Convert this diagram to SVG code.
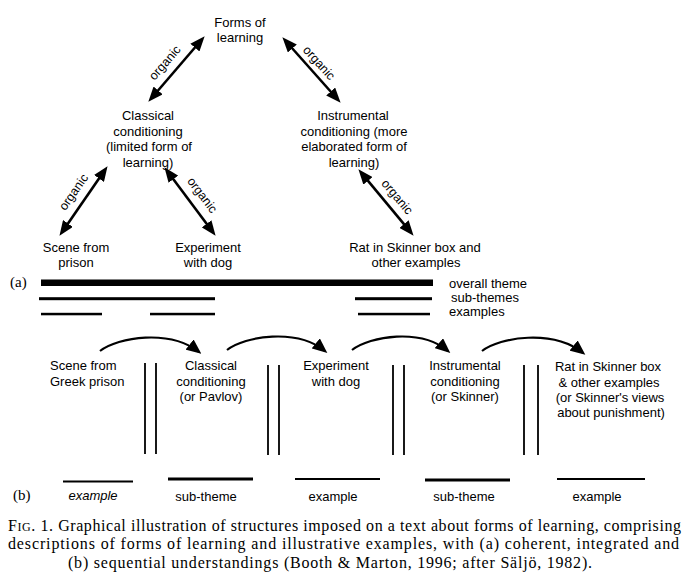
<svg xmlns="http://www.w3.org/2000/svg" width="688" height="586" viewBox="0 0 688 586">
<defs>
<style>
.t{font-family:"Liberation Sans",Arial,Helvetica,sans-serif;font-size:13px;fill:#000;text-anchor:middle}
.ts{font-family:"Liberation Sans",Arial,Helvetica,sans-serif;font-size:13px;fill:#000}
.lbl{font-family:"Liberation Sans",Arial,Helvetica,sans-serif;font-size:12.5px;fill:#000;text-anchor:middle}
.serif{font-family:"Liberation Serif","Times New Roman",serif;fill:#000}
.conn{stroke:#000;stroke-width:2.6;fill:none;marker-start:url(#ah);marker-end:url(#ah)}
.arc{stroke:#000;stroke-width:2.2;fill:none;marker-end:url(#ah2)}
.dl{stroke:#000;stroke-width:1.8}
.ex{stroke:#000;stroke-width:2.2}
.sub{stroke:#000;stroke-width:3.2}
</style>
<marker id="ah" viewBox="0 0 15 12" refX="10" refY="6" markerWidth="15" markerHeight="12" markerUnits="userSpaceOnUse" orient="auto-start-reverse"><path d="M0,0 L15,6 L0,12 z" fill="#000"/></marker>
<marker id="ah2" viewBox="0 0 15 13" refX="12" refY="6.5" markerWidth="15" markerHeight="13" markerUnits="userSpaceOnUse" orient="auto"><path d="M0,0 L15,6.5 L0,13 z" fill="#000"/></marker>
</defs>
<rect width="688" height="586" fill="#fff"/>

<!-- Part (a) nodes -->
<g id="forms">
<text class="t" x="240" y="27">Forms of</text>
<text class="t" x="240" y="42">learning</text>
</g>
<g id="classical">
<text class="t" x="148" y="120">Classical</text>
<text class="t" x="148" y="135.5">conditioning</text>
<text class="t" x="149" y="151">(limited form of</text>
<text class="t" x="148" y="166.5">learning)</text>
</g>
<g id="instrumental">
<text class="t" x="353" y="120">Instrumental</text>
<text class="t" x="354" y="135.5">conditioning (more</text>
<text class="t" x="354" y="151">elaborated form of</text>
<text class="t" x="354" y="166.5">learning)</text>
</g>
<g id="scene">
<text class="t" x="76" y="252">Scene from</text>
<text class="t" x="76" y="267">prison</text>
</g>
<g id="experiment">
<text class="t" x="208" y="252">Experiment</text>
<text class="t" x="208" y="267">with dog</text>
</g>
<g id="rat">
<text class="t" x="415" y="252">Rat in Skinner box and</text>
<text class="t" x="416" y="267">other examples</text>
</g>

<!-- Part (a) connectors -->
<g id="connectors-a">
<path class="conn" d="M201.4,40 L151.6,98"/>
<path class="conn" d="M285.7,41 L337.3,99"/>
<path class="conn" d="M104.7,170.3 L62.3,231.7"/>
<path class="conn" d="M167.4,171.2 L212.6,231.8"/>
<path class="conn" d="M361.6,173.1 L410.4,231.9"/>
<text class="lbl" x="168" y="65.5" transform="rotate(-49 168 65.5)">organic</text>
<text class="lbl" x="316" y="65.7" transform="rotate(48 316 65.7)">organic</text>
<text class="lbl" x="77" y="194.5" transform="rotate(-55 77 194.5)">organic</text>
<text class="lbl" x="199" y="197.5" transform="rotate(53 199 197.5)">organic</text>
<text class="lbl" x="394" y="199.5" transform="rotate(50 394 199.5)">organic</text>
</g>

<!-- Part (a) bars / legend -->
<g id="legend-a">
<text class="serif" x="10" y="287" font-size="15">(a)</text>
<rect x="41" y="279.5" width="392" height="6.5" fill="#000"/>
<rect x="39" y="297.2" width="176" height="3" fill="#000"/>
<rect x="355" y="297.2" width="77" height="3" fill="#000"/>
<rect x="41" y="312.8" width="61" height="2.5" fill="#000"/>
<rect x="150" y="312.8" width="65" height="2.5" fill="#000"/>
<rect x="358" y="312.8" width="72" height="2.5" fill="#000"/>
<text class="ts" x="449" y="288">overall theme</text>
<text class="ts" x="451" y="302">sub-themes</text>
<text class="ts" x="449" y="316">examples</text>
</g>

<!-- Part (b) nodes -->
<g id="b-scene">
<text class="ts" x="50" y="370">Scene from</text>
<text class="ts" x="50" y="386">Greek prison</text>
</g>
<g id="b-classical">
<text class="t" x="211" y="370">Classical</text>
<text class="t" x="211" y="386">conditioning</text>
<text class="t" x="211" y="401">(or Pavlov)</text>
</g>
<g id="b-experiment">
<text class="t" x="336" y="370">Experiment</text>
<text class="t" x="336" y="386">with dog</text>
</g>
<g id="b-instrumental">
<text class="t" x="465" y="370">Instrumental</text>
<text class="t" x="465" y="386">conditioning</text>
<text class="t" x="465" y="401">(or Skinner)</text>
</g>
<g id="b-rat">
<text class="t" x="608" y="370.5">Rat in Skinner box</text>
<text class="t" x="609" y="386.5">&amp; other examples</text>
<text class="t" x="610" y="401.5">(or Skinner's views</text>
<text class="t" x="611" y="417">about punishment)</text>
</g>

<!-- Part (b) connectors -->
<g id="connectors-b">
<path class="arc" d="M100,351 C118,337 170,329 199,352"/>
<path class="arc" d="M227,350 C245,336 297,328 325,351"/>
<path class="arc" d="M352,350 C370,336 421,328 448,351"/>
<path class="arc" d="M482,351 C500,337 553,329 583,353"/>
</g>

<!-- Part (b) separators and labels -->
<g id="separators-b">
<line class="dl" x1="145" y1="363" x2="145" y2="454"/>
<line class="dl" x1="156" y1="363" x2="156" y2="454"/>
<line class="dl" x1="268" y1="365" x2="268" y2="455"/>
<line class="dl" x1="279" y1="365" x2="279" y2="455"/>
<line class="dl" x1="393" y1="365" x2="393" y2="455"/>
<line class="dl" x1="404" y1="365" x2="404" y2="455"/>
<line class="dl" x1="524" y1="365" x2="524" y2="455"/>
<line class="dl" x1="538" y1="365" x2="538" y2="455"/>
</g>
<g id="levels-b">
<text class="serif" x="13" y="500" font-size="15">(b)</text>
<line class="ex" x1="63" y1="481.5" x2="133" y2="481.5"/>
<line class="sub" x1="168" y1="479" x2="253" y2="479"/>
<line class="ex" x1="295" y1="479" x2="380" y2="479"/>
<line class="sub" x1="425" y1="480" x2="510" y2="480"/>
<line class="ex" x1="557" y1="479" x2="645" y2="479"/>
<text class="t" x="93" y="500" font-style="italic">example</text>
<text class="t" x="206" y="501">sub-theme</text>
<text class="t" x="333" y="501">example</text>
<text class="t" x="464" y="501">sub-theme</text>
<text class="t" x="597" y="501">example</text>
</g>

<!-- Caption -->
<g id="caption">
<text class="serif" x="8" y="530.5" font-size="16" textLength="673" lengthAdjust="spacing">F<tspan font-size="12">IG</tspan>. 1. Graphical illustration of structures imposed on a text about forms of learning, comprising</text>
<text class="serif" x="8" y="549" font-size="16" textLength="671" lengthAdjust="spacing">descriptions of forms of learning and illustrative examples, with (a) coherent, integrated and</text>
<text class="serif" x="68" y="567.5" font-size="16" textLength="524" lengthAdjust="spacing">(b) sequential understandings (Booth &amp; Marton, 1996; after Säljö, 1982).</text>
</g>
</svg>
